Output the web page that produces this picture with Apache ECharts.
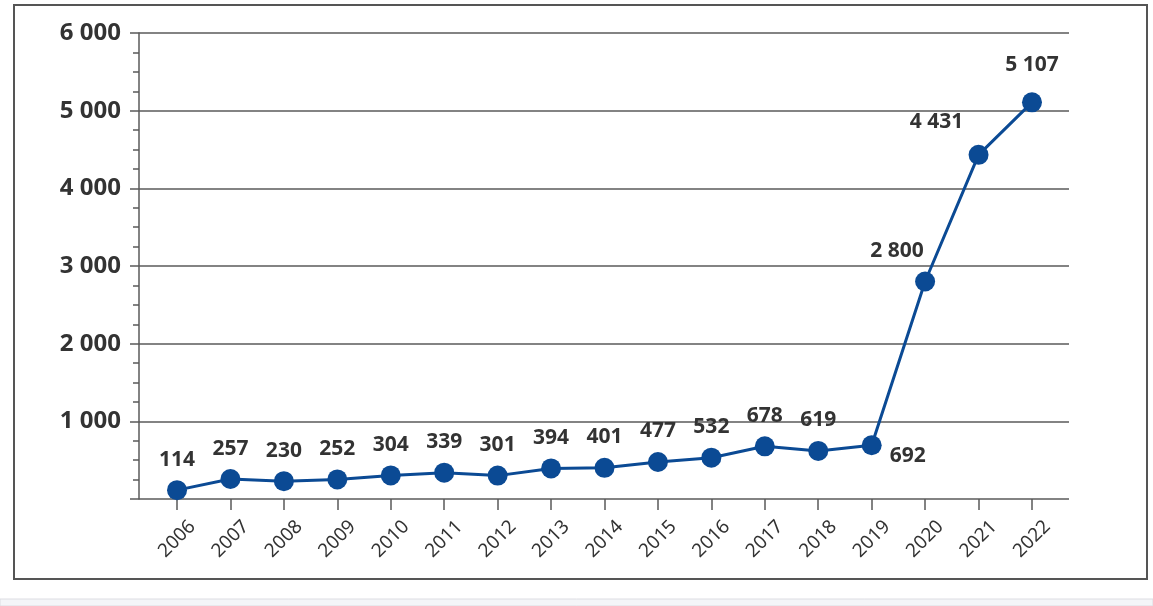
<!DOCTYPE html>
<html>
<head>
<meta charset="utf-8">
<script src="https://cdn.jsdelivr.net/npm/echarts@6/dist/echarts.min.js"></script>
<style>
html,body{margin:0;padding:0;background:#fff;}
#c{width:1153px;height:606px;}
</style>
</head>
<body>
<div id="c"></div>
<script>
const years = ['2006','2007','2008','2009','2010','2011','2012','2013','2014','2015','2016','2017','2018','2019','2020','2021','2022'];
const values = [114, 257, 230, 252, 304, 339, 301, 394, 401, 477, 532, 678, 619, 692, 2800, 4431, 5107];
const yMin = 0, yMax = 6000, yStep = 1000;

function fmt(v){ return String(v).replace(/\B(?=(\d{3})+(?!\d))/g, ' '); }

const labelOverrides = {
  '2019': {position:'inside', offset:[36, 11]},
  '2020': {position:'top', offset:[-28, 0]},
  '2021': {position:'top', offset:[-42, -2]},
  '2022': {position:'top', offset:[0, -7]}
};

const seriesData = values.map((v, i) => {
  const o = labelOverrides[years[i]];
  const d = {value: v};
  if (o) d.label = Object.assign({}, o);
  return d;
});

const chart = echarts.init(document.getElementById('c'), null, {renderer:'canvas'});
const axisColor = '#5a5a5a';
chart.setOption({
  animation: false,
  backgroundColor: '#fff',
  graphic: [
    {type:'rect', z:-10, shape:{x:14, y:5, width:1133, height:574}, style:{fill:'#fff', stroke:'#555', lineWidth:2}},
    {type:'rect', z:-10, shape:{x:0, y:599, width:1153, height:7}, style:{fill:'#f4f5f8', stroke:'#dcdde2', lineWidth:1}}
  ],
  grid: [
    {left:139, right:84, top:33, bottom:107},
    {left:150.3, right:94.3, top:33, bottom:107}
  ],
  xAxis: [
    {type:'value', gridIndex:0, min:0, max:1, show:true,
     axisLine:{show:false}, axisTick:{show:false}, axisLabel:{show:false}, splitLine:{show:false}},
    {type:'category', gridIndex:1, data:years, boundaryGap:true,
     axisLine:{show:false},
     axisTick:{show:true, alignWithLabel:true, length:11, lineStyle:{color:axisColor, width:1.5}},
     axisLabel:{rotate:45, margin:40, align:'center', verticalAlign:'middle',
       fontSize:19, color:'#333', fontFamily:'Noto Sans', interval:0}}
  ],
  yAxis: [
    {type:'value', gridIndex:0, min:yMin, max:yMax, interval:yStep,
     axisLine:{show:true, lineStyle:{color:axisColor, width:1.5}},
     axisTick:{show:true, length:9, lineStyle:{color:axisColor, width:1.5}},
     minorTick:{show:true, splitNumber:4, length:6, lineStyle:{color:axisColor, width:1.5}},
     splitLine:{show:true, lineStyle:{color:axisColor, width:1.5}},
     axisLabel:{margin:18, fontSize:24, fontWeight:'bold', color:'#333', fontFamily:'Noto Sans',
       formatter: v => v === 0 ? '' : fmt(v)}},
    {type:'value', gridIndex:1, min:yMin, max:yMax, interval:yStep, show:false, splitLine:{show:false}}
  ],
  series: [{
    type:'line', xAxisIndex:1, yAxisIndex:1, data:seriesData,
    symbol:'circle', symbolSize:20,
    itemStyle:{color:'#0b4a94'},
    lineStyle:{color:'#0b4a94', width:3},
    label:{show:true, position:'top', distance:10, fontSize:21, fontWeight:'bold', color:'#333',
      fontFamily:'Noto Sans', formatter: p => fmt(p.value)},
    z:5
  }]
});
</script>
</body>
</html>
